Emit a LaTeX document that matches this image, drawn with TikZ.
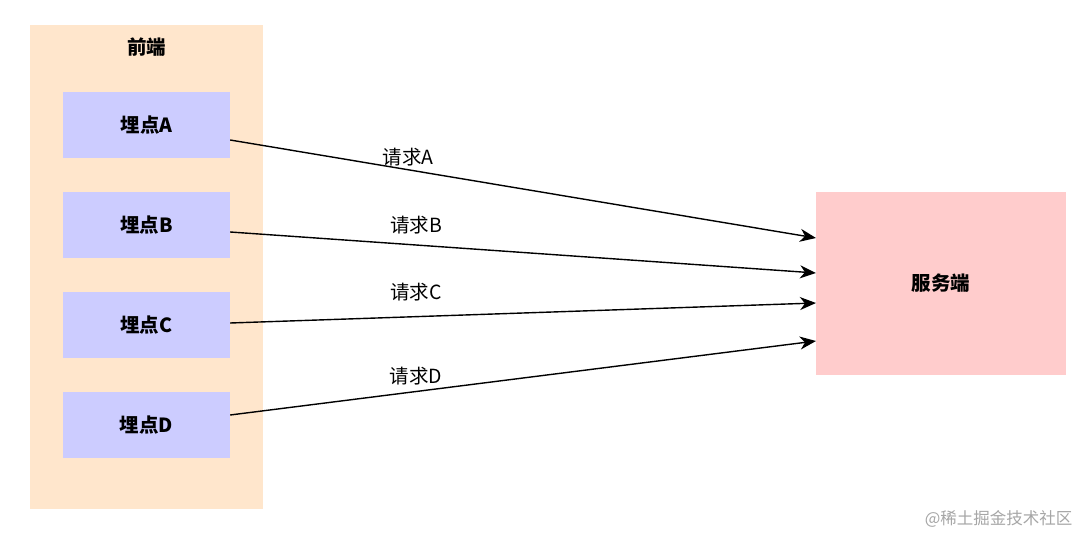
\documentclass[tikz,border=0pt]{standalone}
\usepackage{fontspec}
\setmainfont{Noto Sans CJK SC}
\usetikzlibrary{arrows.meta}
\begin{document}
\begin{tikzpicture}[x=1pt,y=-1pt,
  sub/.style={fill={rgb,255:red,204;green,204;blue,255},draw=none,minimum width=167pt,minimum height=66pt,font=\fontsize{19.5}{22}\selectfont\bfseries},
  srv/.style={fill={rgb,255:red,255;green,204;blue,204},draw=none,minimum width=250pt,minimum height=183pt,font=\fontsize{19.5}{22}\selectfont\bfseries},
  conn/.style={line width=1.4pt,-{Stealth[length=16pt,width=13pt,inset=5pt]}},
  lbl/.style={font=\fontsize{19.5}{22}\selectfont}]
\useasboundingbox (0,0) rectangle (1080,534);
\fill[white] (0,0) rectangle (1080,534);
\fill[fill={rgb,255:red,255;green,230;blue,204}] (30,25) rectangle (263,509);
\node[font=\fontsize{19.5}{22}\selectfont\bfseries] (fe) at (146.5,47) {前端};
\node[sub] (a) at (146.5,125) {埋点A};
\node[sub] (b) at (146.5,225) {埋点B};
\node[sub] (c) at (146.5,325) {埋点C};
\node[sub] (d) at (146.5,425) {埋点D};
\node[srv] (s) at (941,283.5) {服务端};
\coordinate (ta) at (816,238);
\coordinate (tb) at (816,273);
\coordinate (tc) at (816,303);
\coordinate (td) at (816,341);
\draw[conn] (a.east) ++(0,15) coordinate (sa) -- (ta);
\draw[conn] (b.east) ++(0,7) coordinate (sb) -- (tb);
\draw[conn] (c.east) ++(0,-2) coordinate (sc) -- (tc);
\draw[conn] (d.east) ++(0,-10) coordinate (sd) -- (td);
\node[lbl] (la) at (408,157) {请求A};
\node[lbl] (lb) at (416,225) {请求B};
\node[lbl] (lc) at (416,292) {请求C};
\node[lbl] (ld) at (416,376) {请求D};
\node[font=\fontsize{16.5}{18}\selectfont,text=black!35,anchor=east] (wm) at (1076,519) {@稀土掘金技术社区};
\end{tikzpicture}
\end{document}
